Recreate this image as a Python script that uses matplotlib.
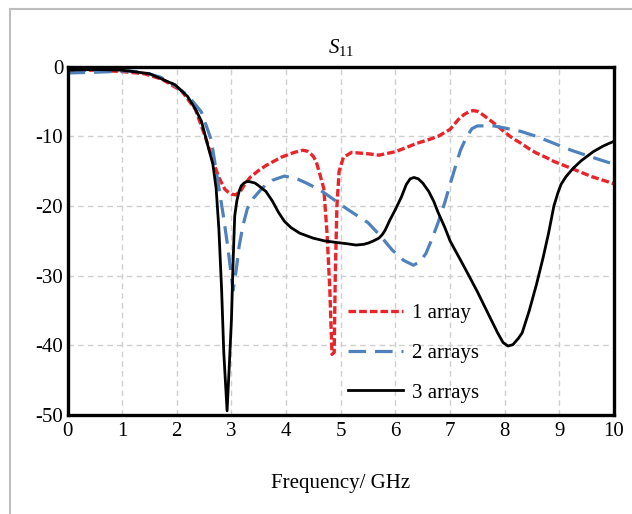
import matplotlib

matplotlib.use("Agg")
import matplotlib.pyplot as plt
from matplotlib.lines import Line2D

plt.rcParams["font.family"] = ["Liberation Serif", "DejaVu Serif"]
plt.rcParams["mathtext.fontset"] = "custom"
plt.rcParams["mathtext.rm"] = "Liberation Serif"
plt.rcParams["mathtext.it"] = "Liberation Serif:italic"
plt.rcParams["axes.unicode_minus"] = False

# 1 array
freq_1 = [0.0, 0.5, 1.0, 1.4, 1.73, 2.09, 2.34, 2.54, 2.66, 2.77, 2.88, 2.94,
          3.0, 3.08, 3.17, 3.25, 3.34, 3.48, 3.63, 3.77, 3.91, 4.15, 4.30,
          4.38, 4.45, 4.5, 4.55, 4.62, 4.69, 4.75, 4.80, 4.84, 4.88, 4.90,
          4.93, 4.97, 5.05, 5.2, 5.5, 5.7, 6.0, 6.2, 6.39, 6.6, 6.78, 7.0,
          7.15, 7.25, 7.34, 7.42, 7.5, 7.6, 7.7, 7.87, 8.0, 8.15, 8.3, 8.45,
          8.58, 8.75, 8.9, 9.22, 9.6, 10.0]
s11_1 = [-0.5, -0.5, -0.7, -1.0, -1.8, -3.5, -6.1, -10.5, -13.5, -15.9, -17.6,
         -18.0, -18.3, -18.4, -17.8, -16.8, -15.9, -15.0, -14.2, -13.6, -13.0,
         -12.3, -12.0, -12.1, -12.5, -12.9, -13.6, -15.5, -17.5, -24.0, -32.0,
         -41.3, -41.0, -30.0, -20.0, -15.0, -13.0, -12.3, -12.5, -12.7, -12.2,
         -11.6, -11.0, -10.5, -10.0, -9.0, -7.6, -6.9, -6.5, -6.3, -6.4, -6.9,
         -7.5, -8.5, -9.4, -10.3, -11.0, -11.8, -12.4, -13.0, -13.6, -14.6,
         -15.8, -16.8]

# 2 arrays
freq_2 = [0.0, 0.5, 1.13, 1.43, 1.7, 1.91, 2.2, 2.45, 2.63, 2.74, 2.86, 2.94,
          3.03, 3.09, 3.14, 3.21, 3.29, 3.4, 3.51, 3.62, 3.75, 3.97, 4.2,
          4.37, 4.6, 4.77, 5.11, 5.5, 5.75, 5.94, 6.15, 6.33, 6.45, 6.56,
          6.67, 6.78, 6.9, 7.0, 7.1, 7.19, 7.3, 7.4, 7.5, 7.62, 7.8, 8.0, 8.3,
          8.58, 8.9, 9.22, 9.6, 10.0]
s11_2 = [-0.9, -0.8, -0.6, -0.9, -1.5, -2.4, -4.1, -6.5, -10.5, -15.9, -21.8,
         -26.3, -32.1, -29.0, -25.8, -22.8, -20.4, -18.9, -17.9, -17.0, -16.3,
         -15.7, -16.1, -16.7, -17.6, -18.5, -20.4, -22.4, -24.5, -26.3, -27.8,
         -28.5, -28.0, -26.8, -24.7, -22.4, -19.6, -16.9, -14.3, -12.0, -10.1,
         -8.9, -8.5, -8.5, -8.5, -8.8, -9.3, -10.0, -11.0, -12.0, -13.0, -14.0]

# 3 arrays
freq_3 = [0.0, 0.5, 1.0, 1.5, 1.97, 2.2, 2.34, 2.45, 2.54, 2.66, 2.72, 2.77,
          2.82, 2.86, 2.92, 2.96, 3.0, 3.03, 3.06, 3.1, 3.14, 3.18, 3.23,
          3.28, 3.33, 3.43, 3.5, 3.63, 3.75, 3.86, 3.97, 4.09, 4.25, 4.49,
          4.7, 4.89, 5.1, 5.28, 5.42, 5.51, 5.6, 5.7, 5.76, 5.81, 5.9, 6.0,
          6.11, 6.2, 6.27, 6.34, 6.42, 6.5, 6.61, 6.7, 6.78, 6.9, 7.0, 7.25,
          7.5, 7.7, 7.87, 7.97, 8.06, 8.15, 8.25, 8.32, 8.45, 8.58, 8.7, 8.8,
          8.9, 8.97, 9.03, 9.12, 9.25, 9.4, 9.62, 9.8, 10.0]
s11_3 = [-0.5, -0.4, -0.5, -1.0, -2.6, -4.3, -6.1, -7.8, -10.5, -14.0, -17.5,
         -23.3, -32.0, -41.1, -49.4, -43.0, -36.3, -28.0, -21.4, -19.2, -17.9,
         -17.1, -16.7, -16.5, -16.5, -16.7, -17.1, -17.9, -19.3, -20.9, -22.2,
         -23.1, -23.9, -24.6, -25.0, -25.2, -25.4, -25.6, -25.5, -25.3, -25.0,
         -24.6, -24.1, -23.5, -22.0, -20.5, -18.7, -16.9, -16.1, -15.9, -16.1,
         -16.7, -17.9, -19.3, -20.9, -23.0, -25.0, -28.6, -32.3, -35.5, -38.2,
         -39.6, -40.1, -39.9, -39.0, -38.2, -35.0, -31.3, -27.5, -24.0, -20.0,
         -18.2, -16.9, -15.8, -14.6, -13.5, -12.2, -11.4, -10.7]

labels = ["1 array", "2 arrays", "3 arrays"]
x_ticks = list(range(0, 11))
y_ticks = [0, -10, -20, -30, -40, -50]

W, H = 632, 514
fig = plt.figure(figsize=(W / 100, H / 100), dpi=100)
ax = fig.add_axes([67.5 / W, (H - 415) / H, (614 - 67.5) / W, (415 - 66.7) / H])

ax.plot(freq_1, s11_1, color="#e8252b", lw=2.4, ls=(0, (2.3, 0.9)), label=labels[0])
ax.plot(freq_2, s11_2, color="#4f81bd", lw=2.3, ls=(0, (5.5, 2.8)), label=labels[1])
ax.plot(freq_3, s11_3, color="black", lw=2.0, label=labels[2])

ax.set_xlim(0, 10)
ax.set_ylim(-50, 0)
ax.set_xticks(x_ticks)
ax.set_yticks(y_ticks)
ax.tick_params(length=0, labelsize=15)
ax.tick_params(axis="x", pad=5)
ax.tick_params(axis="y", pad=3)
ax.grid(True, color="#cfcfcf", lw=1.0, ls=(0, (4, 3)))
ax.set_axisbelow(True)
for sp in ax.spines.values():
    sp.set_linewidth(2.4)

ax.set_title(r"$\mathit{S}_{\mathrm{11}}$", fontsize=15, pad=10)
ax.set_xlabel("Frequency/ GHz", fontsize=15, labelpad=24)

ax.legend(loc="upper left", bbox_to_anchor=(0.514, 0.32), frameon=False,
          fontsize=15, handlelength=2.6, handletextpad=0.45, labelspacing=0.97,
          borderpad=0, borderaxespad=0)

# outer grey frame (left and top edges visible in the crop)
fig.add_artist(Line2D([10 / W, 10 / W], [0, 1 - 9 / H], transform=fig.transFigure,
                      color="#bdbdbd", lw=1.5))
fig.add_artist(Line2D([10 / W, 1], [1 - 9 / H, 1 - 9 / H], transform=fig.transFigure,
                      color="#bdbdbd", lw=1.5))

fig.savefig("out.png", dpi=100)
